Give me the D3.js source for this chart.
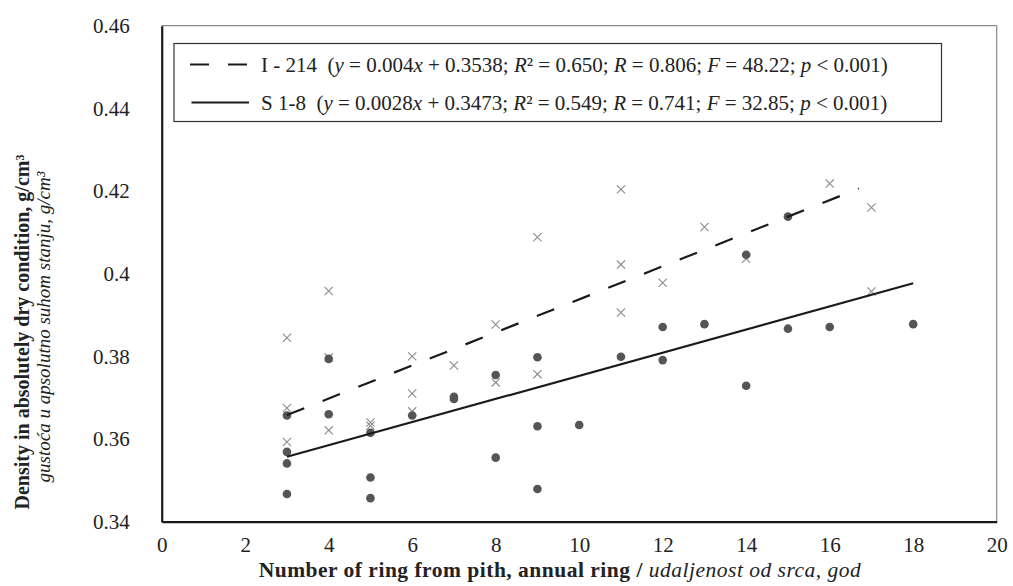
<!DOCTYPE html>
<html>
<head>
<meta charset="utf-8">
<script src="https://cdn.jsdelivr.net/npm/d3@7"></script>
<style>
  html, body { margin: 0; padding: 0; background: #fff; }
  svg { display: block; font-family: "Liberation Serif", "Times New Roman", serif; }
</style>
</head>
<body>
<svg id="chart" width="1013" height="586"></svg>
<script>
// ---- Data ----
const xTicks = [0, 2, 4, 6, 8, 10, 12, 14, 16, 18, 20];
const yTicks = [0.34, 0.36, 0.38, 0.40, 0.42, 0.44, 0.46];
const yTickLabels = ["0.34", "0.36", "0.38", "0.4", "0.42", "0.44", "0.46"];

// I-214 (crosses)
const i214X = [3, 3, 3, 4, 4, 4, 5, 5, 6, 6, 6, 7, 8, 8, 9, 9, 11, 11, 11, 12, 13, 14, 16, 17, 17, 17];
const i214Y = [0.3845, 0.3675, 0.3593, 0.3958, 0.3797, 0.3621, 0.3640, 0.3632, 0.3800, 0.3710, 0.3667,
               0.3778, 0.3877, 0.3737, 0.4088, 0.3757, 0.4204, 0.4022, 0.3906, 0.3978, 0.4113, 0.4036,
               0.4218, 0.4481, 0.4160, 0.3957];

// S 1-8 (filled circles)
const s18X = [3, 3, 3, 3, 4, 4, 5, 5, 5, 6, 7, 7, 8, 8, 9, 9, 9, 10, 11, 12, 12, 13, 14, 14, 15, 15, 16, 18];
const s18Y = [0.3657, 0.3569, 0.3541, 0.3467, 0.3794, 0.3660, 0.3615, 0.3507, 0.3457, 0.3657, 0.3702, 0.3697,
              0.3755, 0.3555, 0.3798, 0.3631, 0.3479, 0.3634, 0.3799, 0.3871, 0.3791, 0.3878, 0.4046, 0.3729,
              0.4138, 0.3867, 0.3871, 0.3878];

// Trend lines: slope, intercept, x-range
const trendI214 = { slope: 0.004, intercept: 0.3538, x0: 3, x1: 16.7 };
const trendS18  = { slope: 0.0028, intercept: 0.3473, x0: 3, x1: 18 };

// ---- Layout ----
const svg = d3.select("#chart");
const L = 161.7, R = 996.7, T = 25.7, B = 521.7;
const x = d3.scaleLinear().domain([0, 20]).range([L, R]);
const y = d3.scaleLinear().domain([0.34, 0.46]).range([B, T]);
const FS = 21;

// plot area border (top/right thin gray)
svg.append("line").attr("x1", L).attr("x2", R).attr("y1", T).attr("y2", T)
  .attr("stroke", "#8a8a8a").attr("stroke-width", 1.2);
svg.append("line").attr("x1", R).attr("x2", R).attr("y1", T).attr("y2", B)
  .attr("stroke", "#8a8a8a").attr("stroke-width", 1.2);

// axes
const xAxis = d3.axisBottom(x).tickValues(xTicks).tickSize(0).tickPadding(15.5).tickFormat(d3.format("d"));
const yAxis = d3.axisLeft(y).tickValues(yTicks).tickSize(0).tickPadding(32)
  .tickFormat((d, i) => yTickLabels[i]);

const gx = svg.append("g").attr("transform", `translate(0,${B})`).call(xAxis);
const gy = svg.append("g").attr("transform", `translate(${L},0)`).call(yAxis);
[gx, gy].forEach(g => {
  g.attr("font-family", null);
  g.select(".domain").attr("stroke", "#1a1a1a").attr("stroke-width", 2.2);
  g.selectAll("text").attr("font-family", "Liberation Serif, serif").attr("font-size", FS).attr("fill", "#222");
});

// crosses
const cs = 4.1;
const crossG = svg.append("g");
i214X.forEach((xv, i) => {
  const cx = x(xv), cy = y(i214Y[i]);
  crossG.append("path")
    .attr("d", `M${cx - cs},${cy - cs}L${cx + cs},${cy + cs}M${cx - cs},${cy + cs}L${cx + cs},${cy - cs}`)
    .attr("stroke", "#8c8c8c").attr("stroke-width", 1.1).attr("fill", "none");
});

// circles
svg.append("g").selectAll("circle").data(s18X).join("circle")
  .attr("cx", d => x(d)).attr("cy", (d, i) => y(s18Y[i])).attr("r", 4.3)
  .attr("fill", "#555555");

// trend lines
function trend(t, dash) {
  svg.append("line")
    .attr("x1", x(t.x0)).attr("y1", y(t.slope * t.x0 + t.intercept))
    .attr("x2", x(t.x1)).attr("y2", y(t.slope * t.x1 + t.intercept))
    .attr("stroke", "#1a1a1a").attr("stroke-width", 2.2)
    .attr("stroke-dasharray", dash || null);
}
trend(trendI214, "18.6,19.8");
trend(trendS18, null);

// legend
const lg = svg.append("g");
lg.append("rect").attr("x", 174).attr("y", 43.5).attr("width", 767.5).attr("height", 78)
  .attr("fill", "#fff").attr("stroke", "#333").attr("stroke-width", 1.2);
lg.append("line").attr("x1", 190).attr("x2", 247).attr("y1", 64.5).attr("y2", 64.5)
  .attr("stroke", "#1a1a1a").attr("stroke-width", 2.2).attr("stroke-dasharray", "19,19");
lg.append("line").attr("x1", 191.5).attr("x2", 249).attr("y1", 102.5).attr("y2", 102.5)
  .attr("stroke", "#1a1a1a").attr("stroke-width", 2.2);

function legendText(yPos, parts) {
  const t = lg.append("text").attr("x", 261).attr("y", yPos).attr("font-size", FS)
    .attr("fill", "#222").style("white-space", "pre");
  parts.forEach(p => {
    t.append("tspan").text(p[0]).attr("font-style", p[1] ? "italic" : "normal");
  });
}
legendText(71.5, [["I - 214  (", 0], ["y", 1], [" = 0.004", 0], ["x", 1], [" + 0.3538; ", 0], ["R", 1],
  ["² = 0.650; ", 0], ["R", 1], [" = 0.806; ", 0], ["F", 1], [" = 48.22; ", 0], ["p", 1], [" < 0.001)", 0]]);
legendText(109.5, [["S 1-8  (", 0], ["y", 1], [" = 0.0028", 0], ["x", 1], [" + 0.3473; ", 0], ["R", 1],
  ["² = 0.549; ", 0], ["R", 1], [" = 0.741; ", 0], ["F", 1], [" = 32.85; ", 0], ["p", 1], [" < 0.001)", 0]]);

// x-axis title
const xt = svg.append("text").attr("x", 560).attr("y", 577).attr("text-anchor", "middle")
  .attr("font-size", 21.5).attr("letter-spacing", 0.5).attr("fill", "#222");
xt.append("tspan").text("Number of ring from pith, annual ring / ").attr("font-weight", "bold");
xt.append("tspan").text("udaljenost od srca, god").attr("font-style", "italic");

// y-axis title
svg.append("text").attr("transform", `translate(29,332) rotate(-90)`).attr("text-anchor", "middle")
  .attr("font-size", 20).attr("font-weight", "bold").attr("fill", "#222")
  .text("Density in absolutely dry condition, g/cm³");
svg.append("text").attr("transform", `translate(50,327) rotate(-90)`).attr("text-anchor", "middle")
  .attr("font-size", 19).attr("font-style", "italic").attr("fill", "#222")
  .text("gustoća u apsolutno suhom stanju, g/cm³");
</script>
</body>
</html>
